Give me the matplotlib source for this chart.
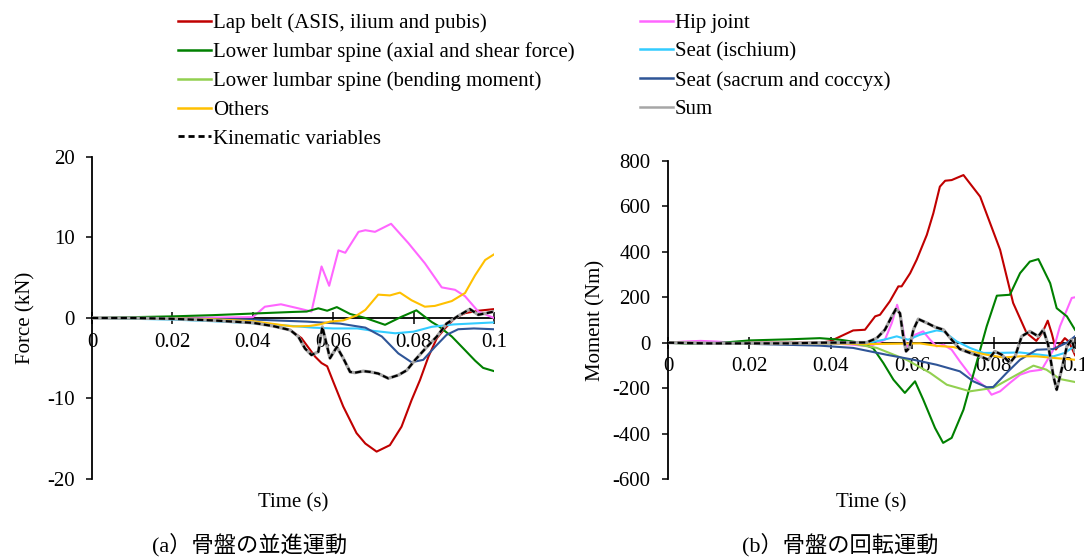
import matplotlib.pyplot as plt
from matplotlib.lines import Line2D

plt.rcParams['font.family'] = ['Liberation Serif', 'Noto Sans CJK JP']
plt.rcParams['font.size'] = 15
plt.rcParams['axes.unicode_minus'] = False

labels = [
    "Lap belt (ASIS, ilium and pubis)",
    "Hip joint",
    "Lower lumbar spine (axial and shear force)",
    "Seat (ischium)",
    "Lower lumbar spine (bending moment)",
    "Seat (sacrum and coccyx)",
    "Others",
    "Sum",
    "Kinematic variables",
]
colors = ["#C00000", "#FF66FF", "#008000", "#33CCFF", "#92D050",
          "#2F5597", "#FFC000", "#A6A6A6", "#000000"]

# ---- (a) translation: force in kN ----
lap_a_t = [0, 0.02, 0.03, 0.04, 0.045, 0.0493, 0.0521, 0.0555, 0.0571, 0.0585, 0.06,
           0.0625, 0.0658, 0.068, 0.0708, 0.0741, 0.077, 0.0795, 0.0816, 0.0837, 0.0858,
           0.0878, 0.0903, 0.0928, 0.0961, 0.1]
lap_a = [0, -0.1, -0.3, -0.6, -0.9, -1.5, -2.5, -4.8, -5.6, -6.0, -7.9,
         -11.0, -14.3, -15.6, -16.6, -15.8, -13.5, -10.2, -7.7, -4.8, -2.5,
         -1.3, 0.0, 0.6, 0.9, 1.1]

hip_a_t = [0, 0.03, 0.04, 0.043, 0.047, 0.0513, 0.0546, 0.0571, 0.059, 0.0613, 0.063,
           0.0663, 0.068, 0.0704, 0.0744, 0.0787, 0.0828, 0.087, 0.0903, 0.0928, 0.0961, 0.1]
hip_a = [0, 0.05, 0.1, 1.4, 1.7, 1.2, 0.8, 6.4, 4.0, 8.4, 8.1,
         10.7, 10.9, 10.7, 11.7, 9.3, 6.8, 3.8, 3.5, 2.7, 0.8, 0.0]

lumbar_a_t = [0, 0.02, 0.03, 0.04, 0.05, 0.0534, 0.0563, 0.0585, 0.0609, 0.0642, 0.068,
              0.0729, 0.077, 0.0807, 0.0845, 0.0862, 0.0895, 0.0928, 0.0953, 0.0973, 0.1]
lumbar_a = [0, 0.2, 0.35, 0.55, 0.75, 0.8, 1.2, 0.9, 1.35, 0.5, 0.0,
            -0.85, 0.15, 0.95, -0.5, -1.0, -2.3, -4.0, -5.3, -6.2, -6.6]

ischium_a_t = [0, 0.02, 0.03, 0.04, 0.05, 0.055, 0.06, 0.066, 0.07, 0.0754, 0.08,
               0.0845, 0.09, 0.1]
ischium_a = [0, -0.2, -0.4, -0.65, -1.0, -1.2, -1.3, -1.3, -1.6, -1.9, -1.7,
             -1.1, -0.8, -0.55]

sacrum_a_t = [0, 0.02, 0.04, 0.0534, 0.0617, 0.068, 0.0721, 0.0762, 0.0795, 0.0824,
              0.0853, 0.0882, 0.0911, 0.095, 0.1]
sacrum_a = [0, -0.05, -0.2, -0.45, -0.7, -1.2, -2.3, -4.4, -5.5, -5.2,
            -3.6, -2.1, -1.4, -1.3, -1.4]

others_a_t = [0, 0.02, 0.03, 0.04, 0.0468, 0.05, 0.054, 0.0567, 0.0592, 0.0625, 0.0658,
              0.068, 0.0712, 0.0741, 0.0766, 0.0795, 0.0828, 0.0853, 0.0895, 0.0928,
              0.0953, 0.0978, 0.1]
others_a = [0, -0.05, -0.15, -0.4, -0.85, -1.05, -1.0, -0.8, -0.45, -0.3, 0.3,
            1.0, 2.9, 2.8, 3.15, 2.2, 1.4, 1.5, 2.1, 3.1,
            5.3, 7.2, 7.9]

kin_a_t = [0, 0.01, 0.02, 0.03, 0.04, 0.045, 0.0493, 0.0513, 0.053, 0.0546, 0.0563,
           0.0573, 0.0592, 0.0609, 0.0625, 0.0642, 0.0654, 0.0675, 0.0692, 0.0712, 0.0737,
           0.0762, 0.0783, 0.0804, 0.0833, 0.0858, 0.0882, 0.0911, 0.094, 0.0961, 0.0986, 0.1]
kin_a = [0, 0.0, -0.1, -0.3, -0.6, -1.0, -1.5, -2.3, -3.8, -4.6, -4.2,
         -1.1, -5.0, -3.6, -5.0, -6.7, -6.8, -6.6, -6.7, -6.9, -7.5,
         -7.1, -6.5, -5.2, -3.6, -2.3, -0.7, 0.25, 1.1, 0.4, 0.65, 0.8]

# ---- (b) rotation: moment in Nm ----
lap_b_t = [0, 0.02, 0.0373, 0.0398, 0.0455, 0.0484, 0.0509, 0.0521, 0.0545, 0.0566, 0.0574,
           0.0595, 0.0611, 0.0636, 0.0652, 0.0668, 0.0681, 0.0697, 0.0726, 0.0767, 0.0816,
           0.0848, 0.0881, 0.0905, 0.092, 0.0933, 0.0943, 0.0953, 0.0975, 0.0985, 0.1]
lap_b = [0, 0, 0, 6, 54, 57, 116, 123, 182, 248, 248,
         306, 365, 475, 570, 687, 713, 716, 738, 643, 409,
         175, 43, 8, 45, 97, 40, -30, 20, 5, -55]

hip_b_t = [0, 0.004, 0.008, 0.012, 0.016, 0.03, 0.04, 0.045, 0.0496, 0.0533, 0.055,
           0.0563, 0.0574, 0.0586, 0.0607, 0.0627, 0.0644, 0.066, 0.0677, 0.0697, 0.0717,
           0.0742, 0.0762, 0.0783, 0.0795, 0.0816, 0.084, 0.0865, 0.0889, 0.0918, 0.0947,
           0.0963, 0.098, 0.0992, 0.1]
hip_b = [0, 5, 8, 5, 0, 0, -3, -8, -16, 13, 87,
         167, 94, -23, 35, 50, 13, -16, -9, -31, -82,
         -141, -170, -199, -229, -214, -177, -141, -126, -119, -31,
         72, 145, 197, 200]

lumbar_b_t = [0, 0.005, 0.01, 0.02, 0.03, 0.0373, 0.0423, 0.0472, 0.0504, 0.0529, 0.0554,
              0.0582, 0.0607, 0.0627, 0.0656, 0.0676, 0.0697, 0.0726, 0.0758, 0.0783, 0.0808,
              0.084, 0.0865, 0.0889, 0.091, 0.0939, 0.0955, 0.098, 0.1]
lumbar_b = [0, -5, -5, 10, 15, 20, 13, 0, -24, -89, -163,
            -221, -170, -250, -375, -441, -419, -295, -89, 72, 207,
            211, 306, 357, 368, 262, 152, 116, 57]

ischium_b_t = [0, 0.04, 0.0496, 0.0537, 0.0562, 0.059, 0.0619, 0.066, 0.0677, 0.0709,
               0.0742, 0.0775, 0.0808, 0.0865, 0.0914, 0.0947, 0.0975, 0.1]
ischium_b = [0, -3, 0, 16, 28, 13, 35, 54, 50, 6,
             -23, -45, -45, -43, -53, -60, -45, -13]

bending_b_t = [0, 0.01, 0.03, 0.045, 0.0513, 0.0586, 0.0644, 0.0685, 0.0742, 0.0799,
               0.0857, 0.0898, 0.093, 0.0963, 0.1]
bending_b = [0, -2, 0, -3, -23, -75, -133, -185, -214, -199,
             -141, -101, -119, -160, -173]

sacrum_b_t = [0, 0.02, 0.0373, 0.0455, 0.0537, 0.0603, 0.066, 0.0717, 0.075, 0.0783,
              0.0799, 0.0832, 0.0865, 0.0906, 0.0947, 0.098, 0.1]
sacrum_b = [0, -5, -13, -23, -53, -75, -97, -126, -170, -196,
            -195, -133, -75, -31, -28, 0, 28]

others_b_t = [0, 0.02, 0.04, 0.0496, 0.0619, 0.066, 0.0701, 0.0742, 0.0783, 0.0824,
              0.0865, 0.0906, 0.0947, 0.1]
others_b = [0, -2, -3, -6, -3, -14, -19, -38, -53, -65,
            -60, -60, -67, -75]

kin_b_t = [0, 0.01, 0.03, 0.0373, 0.0488, 0.0513, 0.0533, 0.055, 0.056, 0.057, 0.0578,
           0.0585, 0.0593, 0.0603, 0.0615, 0.0636, 0.0656, 0.0677, 0.0697, 0.0717, 0.0742,
           0.0767, 0.0787, 0.0803, 0.082, 0.084, 0.0853, 0.0869, 0.0889, 0.091, 0.0922,
           0.0934, 0.0947, 0.0955, 0.0967, 0.098, 0.0992, 0.1]
kin_b = [0, -3, -3, 0, 1, 20, 57, 116, 148, 130, 28,
         -38, -23, 57, 104, 87, 69, 57, 13, -28, -45,
         -60, -75, -38, -53, -89, -60, 28, 50, 28, 57,
         -9, -148, -207, -119, -16, 13, -38]

xticks = [0, 0.02, 0.04, 0.06, 0.08, 0.1]
xticklabels = ["0", "0.02", "0.04", "0.06", "0.08", "0.1"]

fig = plt.figure(figsize=(10.84, 5.58), dpi=100)
ax1 = fig.add_axes([0.0849, 0.1416, 0.3708, 0.5771])
ax2 = fig.add_axes([0.6162, 0.1416, 0.3755, 0.5699])


def draw(ax, series):
    for t, v, c, lab in series:
        if lab == "Kinematic variables":
            ax.plot(t, v, color=c, lw=1.6, dashes=(2.8, 1.5), zorder=5)
        elif lab == "Sum":
            ax.plot(t, v, color=c, lw=2.3, zorder=4)
        else:
            ax.plot(t, v, color=c, lw=1.5, zorder=3)
    ax.set_xlim(0, 0.1)
    for s in ["top", "right"]:
        ax.spines[s].set_visible(False)
    ax.spines["bottom"].set_position(("data", 0))
    ax.spines["bottom"].set_zorder(2)
    for s in ["left", "bottom"]:
        ax.spines[s].set_linewidth(1.3)
    ax.set_xticks(xticks)
    ax.set_xticklabels(xticklabels)
    ax.tick_params(axis="x", direction="inout", length=9, width=1.1, pad=6)
    ax.tick_params(axis="y", direction="out", length=4.5, width=1.1, pad=8)
    ax.patch.set_visible(False)


draw(ax1, [
    (lap_a_t, lap_a, colors[0], labels[0]),
    (hip_a_t, hip_a, colors[1], labels[1]),
    (lumbar_a_t, lumbar_a, colors[2], labels[2]),
    (ischium_a_t, ischium_a, colors[3], labels[3]),
    (sacrum_a_t, sacrum_a, colors[5], labels[5]),
    (others_a_t, others_a, colors[6], labels[6]),
    (kin_a_t, kin_a, colors[7], labels[7]),
    (kin_a_t, kin_a, colors[8], labels[8]),
])
ax1.set_ylim(-20, 20)
ax1.set_yticks([-20, -10, 0, 10, 20])
ax1.set_ylabel("Force (kN)")
ax1.yaxis.set_label_coords(-0.14, 0.5)
ax1.set_xlabel("Time (s)")
ax1.xaxis.set_label_coords(0.5, -0.043)

draw(ax2, [
    (lap_b_t, lap_b, colors[0], labels[0]),
    (hip_b_t, hip_b, colors[1], labels[1]),
    (lumbar_b_t, lumbar_b, colors[2], labels[2]),
    (ischium_b_t, ischium_b, colors[3], labels[3]),
    (bending_b_t, bending_b, colors[4], labels[4]),
    (sacrum_b_t, sacrum_b, colors[5], labels[5]),
    (others_b_t, others_b, colors[6], labels[6]),
    (kin_b_t, kin_b, colors[7], labels[7]),
    (kin_b_t, kin_b, colors[8], labels[8]),
])
ax2.set_ylim(-600, 800)
ax2.set_yticks(range(-600, 801, 200))
ax2.set_ylabel("Moment (Nm)")
ax2.yaxis.set_label_coords(-0.153, 0.5)
ax2.set_xlabel("Time (s)")
ax2.xaxis.set_label_coords(0.5, -0.044)

# legend handles, two columns placed separately
handles = []
for lab, c in zip(labels, colors):
    if lab == "Kinematic variables":
        handles.append(Line2D([], [], color=c, lw=2.0, dashes=(2.2, 1.4)))
    else:
        handles.append(Line2D([], [], color=c, lw=1.8))

leg_kw = dict(loc="upper left", frameon=False, borderpad=0, borderaxespad=0,
              handlelength=1.6, handletextpad=0.1, labelspacing=0.44, fontsize=15)
left_idx = [0, 2, 4, 6, 8]
right_idx = [1, 3, 5, 7]
fig.legend([handles[i] for i in left_idx], [labels[i] for i in left_idx],
           bbox_to_anchor=(0.1642, 0.976), **leg_kw)
fig.legend([handles[i] for i in right_idx], [labels[i] for i in right_idx],
           bbox_to_anchor=(0.590, 0.976), **leg_kw)

fig.text(250 / 1084, 1 - 545 / 558, "(a）骨盤の並進運動", ha="center", va="center", fontsize=16)
fig.text(840 / 1084, 1 - 545 / 558, "(b）骨盤の回転運動", ha="center", va="center", fontsize=16)

fig.savefig("out.png", dpi=100)
